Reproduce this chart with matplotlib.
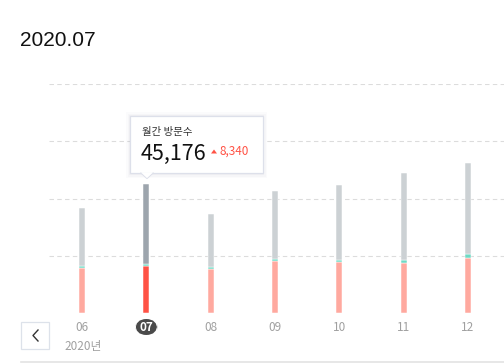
import matplotlib
matplotlib.use("Agg")
import matplotlib.pyplot as plt
from matplotlib.patches import FancyBboxPatch, Rectangle, Polygon
import numpy as np

plt.rcParams['font.family'] = ['Noto Sans CJK KR', 'DejaVu Sans']

# monthly visits, split into three stacked parts
months = ['06', '07', '08', '09', '10', '11', '12']
totals = [36836, 45176, 34580, 42620, 44710, 48900, 52400]
red_part = [15820, 16420, 15370, 18160, 17810, 17460, 19210]
teal_part = [450, 550, 600, 550, 550, 900, 1550]
gray_part = [t - r - g for t, r, g in zip(totals, red_part, teal_part)]
selected = 1
year_label = '2020년'
title = '2020.07'
tip_label = '월간 방문수'
tip_value = '45,176'
tip_delta = '8,340'

W, H = 504, 363
fig = plt.figure(figsize=(W / 100, H / 100), dpi=100)

def fx(px):
    return px / W

def fy(py):
    return 1 - py / H

ax = fig.add_axes([fx(49), fy(313), fx(504) - fx(49), fy(84) - fy(313)])
x = np.arange(len(months))

red_c = ['#ff5245' if i == selected else '#ffa99f' for i in x]
gray_c = ['#9da5ad' if i == selected else '#ccd1d4' for i in x]
teal_c = '#6fd9c4'

bw = 0.095
ax.bar(x, red_part, width=bw, color=red_c, edgecolor='white', linewidth=0.35, zorder=3)
ax.bar(x, teal_part, width=bw, bottom=red_part, color=teal_c, edgecolor='white', linewidth=0.35, zorder=3)
bottom2 = [r + g for r, g in zip(red_part, teal_part)]
ax.bar(x, gray_part, width=bw, bottom=bottom2, color=gray_c, edgecolor='white', linewidth=0.35, zorder=3)

ax.set_xlim(-0.513, 6.56)
ax.set_ylim(0, 80000)
for gy in [20000, 40000, 60000, 80000]:
    ax.axhline(gy, color='#dcdcdc', linestyle=(0, (4, 3)), linewidth=0.8, zorder=1)
ax.axis('off')

# month labels
for i, m in enumerate(months):
    xf = fx(49) + (i + 0.513) / 7.073 * (fx(504) - fx(49))
    if i == selected:
        fig.patches.append(FancyBboxPatch((xf - fx(11), fy(335)), fx(22), fy(319) - fy(335),
                                          boxstyle='round,pad=0,rounding_size=0.022',
                                          transform=fig.transFigure, facecolor='#4a4a4a',
                                          edgecolor='none', mutation_aspect=W / H))
        fig.text(xf, fy(327.5), m, ha='center', va='center', fontsize=8.5,
                 color='white', fontweight='bold')
    else:
        fig.text(xf, fy(327.5), m, ha='center', va='center', fontsize=8.5, color='#a0a0a0')

fig.text(fx(64), fy(346.5), year_label, ha='left', va='center', fontsize=8.5, color='#a0a0a0')

# title
fig.text(fx(20), fy(41), title, ha='left', va='center', fontsize=15,
         family='Liberation Sans', color='#111111')

# prev button
fig.patches.append(Rectangle((fx(21), fy(349)), fx(28), fy(322) - fy(349),
                             transform=fig.transFigure, facecolor='white',
                             edgecolor='#dde2ea', linewidth=0.9))
fig.lines.append(plt.Line2D([fx(38), fx(33), fx(38)], [fy(330), fy(335.5), fy(341)],
                            transform=fig.transFigure, color='#333333', linewidth=1.0))

# bottom line
fig.lines.append(plt.Line2D([fx(21), fx(504)], [fy(362), fy(362)],
                            transform=fig.transFigure, color='#e3e3e3', linewidth=1.2))

# tooltip with soft shadow
for k, a in [(4, 0.03), (2.5, 0.04), (1.2, 0.05)]:
    fig.patches.append(Rectangle((fx(130 - k), fy(173 + k + 1)), fx(133 + 2 * k), fy(116 - k) - fy(173 + k + 1),
                                 transform=fig.transFigure, facecolor='#8890a8', alpha=a,
                                 edgecolor='none', zorder=5))
fig.patches.append(Rectangle((fx(130), fy(173)), fx(133), fy(116) - fy(173),
                             transform=fig.transFigure, facecolor='white',
                             edgecolor='#dde0ea', linewidth=0.9, zorder=6))
fig.patches.append(Polygon([[fx(141), fy(172.5)], [fx(153), fy(172.5)], [fx(147), fy(178)]],
                           transform=fig.transFigure, facecolor='white',
                           edgecolor='none', zorder=7))
fig.lines.append(plt.Line2D([fx(141), fx(147), fx(153)], [fy(173), fy(178.5), fy(173)],
                            transform=fig.transFigure, color='#dde0ea', linewidth=0.9, zorder=7))

fig.text(fx(142), fy(132), tip_label, ha='left', va='center', fontsize=7.5,
         color='#333333', zorder=8)
fig.text(fx(141), fy(154), tip_value, ha='left', va='center', fontsize=15.5,
         color='#111111', zorder=8)
fig.patches.append(Polygon([[fx(211), fy(153.5)], [fx(217), fy(153.5)], [fx(214), fy(149.5)]],
                           transform=fig.transFigure, facecolor='#ff5245',
                           edgecolor='none', zorder=8))
fig.text(fx(219), fy(151.5), tip_delta, ha='left', va='center', fontsize=8.5,
         color='#ff5245', zorder=8)

fig.savefig('out.png', dpi=100, facecolor='white')
